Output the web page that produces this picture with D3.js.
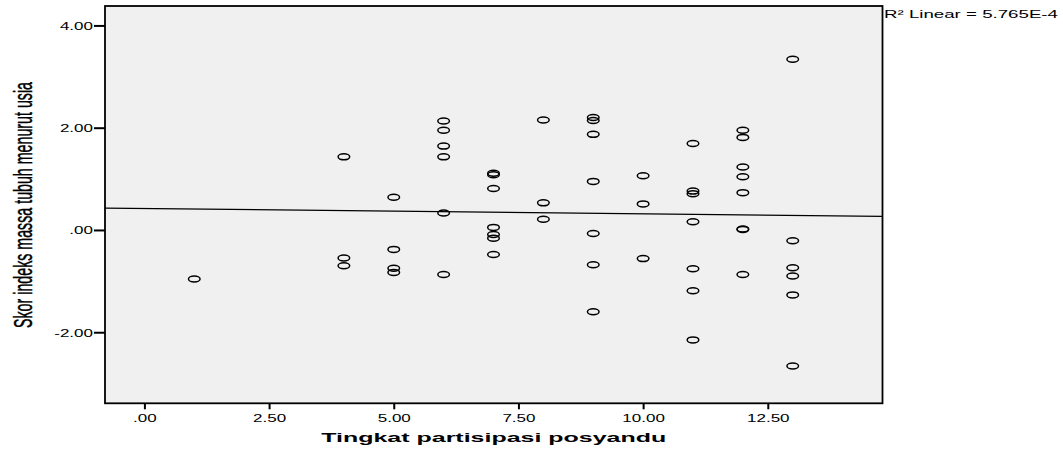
<!DOCTYPE html>
<html>
  <head>
    <meta charset="utf-8">
  </head>
  <body style="margin:0;background:#fff">
    <style>
      text { font-family: "Liberation Sans", Arial, sans-serif; fill: #000; }
    </style>
    <script src="https://d3js.org/d3.v7.min.js"></script>
    <script type="text/javascript">
      const width = 1063;
      const height = 450;

      // participation level (x) and the z-scores observed at that level (y)
      const levels = [1, 4, 5, 6, 7, 8, 9, 10, 11, 12, 13];
      const scoresByLevel = [
        [-0.96],
        [1.43, -0.55, -0.70],
        [0.64, -0.38, -0.75, -0.83],
        [2.13, 1.95, 1.64, 1.43, 0.33, -0.87],
        [1.11, 1.08, 0.81, 0.05, -0.09, -0.16, -0.48],
        [2.15, 0.53, 0.21],
        [2.20, 2.14, 1.87, 0.95, -0.07, -0.68, -1.60],
        [1.06, 0.51, -0.56],
        [1.69, 0.76, 0.71, 0.16, -0.76, -1.19, -2.15],
        [1.95, 1.81, 1.23, 1.04, 0.73, 0.02, 0.01, -0.87],
        [3.34, -0.21, -0.74, -0.90, -1.27, -2.66],
      ];
      const xTicks = [0, 2.5, 5, 7.5, 10, 12.5];
      const yTicks = [-2, 0, 2, 4];
      const fitIntercept = 0.42;
      const fitSlope = -0.0105;
      const r2Label = 'R\u00B2 Linear = 5.765E-4';
      const xTitle = 'Tingkat partisipasi posyandu';
      const yTitle = 'Skor indeks massa tubuh menurut usia';

      const points = [];
      levels.forEach((lv, i) => scoresByLevel[i].forEach((s) => points.push({ x: lv, y: s })));

      const plot = { left: 105, right: 882.5, top: 6, bottom: 403.3 };

      const xScale = d3.scaleLinear()
        .domain([-0.79, 14.8])
        .range([plot.left, plot.right]);

      const yScale = d3.scaleLinear()
        .domain([-3.39, 4.38])
        .range([plot.bottom, plot.top]);

      // SPSS style: ".00", "2.50", "-2.00" (plain hyphen)
      const fmt = (v) => (v < 0 ? '-' : '') + d3.format('.2f')(Math.abs(v)).replace(/^0\./, '.');

      const svg = d3.select('body')
        .append('svg')
        .attr('width', width)
        .attr('height', height);

      svg.append('rect')
        .attr('x', plot.left)
        .attr('y', plot.top)
        .attr('width', plot.right - plot.left)
        .attr('height', plot.bottom - plot.top)
        .attr('fill', '#f0f0f0');

      // axes
      const xAxis = svg.append('g')
        .attr('transform', `translate(0,${plot.bottom})`)
        .call(d3.axisBottom(xScale).tickValues(xTicks).tickFormat(fmt).tickSize(6).tickPadding(0));
      xAxis.select('.domain').remove();
      xAxis.selectAll('line').attr('stroke', '#000').attr('stroke-width', 2);
      xAxis.selectAll('text')
        .attr('y', null).attr('dy', null)
        .attr('transform', 'translate(0,19) scale(1.62,1)')
        .style('font-size', '10.5px');

      const yAxis = svg.append('g')
        .attr('transform', `translate(${plot.left},0)`)
        .call(d3.axisLeft(yScale).tickValues(yTicks).tickFormat(fmt).tickSize(11).tickPadding(0));
      yAxis.select('.domain').remove();
      yAxis.selectAll('line').attr('stroke', '#000').attr('stroke-width', 2);
      yAxis.selectAll('text')
        .attr('x', null).attr('dy', null)
        .attr('transform', 'translate(-12,4) scale(1.62,1)')
        .style('font-size', '10.5px');

      // fit line
      const xd = xScale.domain();
      svg.append('path')
        .datum(xd.map((x) => ({ x, y: fitIntercept + fitSlope * x })))
        .attr('d', d3.line().x((d) => xScale(d.x)).y((d) => yScale(d.y)))
        .attr('stroke', '#000')
        .attr('stroke-width', 1.3)
        .attr('fill', 'none');

      // points
      svg.append('g')
        .selectAll('ellipse')
        .data(points)
        .enter()
        .append('ellipse')
        .attr('cx', (d) => xScale(d.x))
        .attr('cy', (d) => yScale(d.y))
        .attr('rx', 5.8)
        .attr('ry', 3)
        .attr('fill', 'none')
        .attr('stroke', '#000')
        .attr('stroke-width', 1.5);

      // frame
      svg.append('rect')
        .attr('x', plot.left)
        .attr('y', plot.top)
        .attr('width', plot.right - plot.left)
        .attr('height', plot.bottom - plot.top)
        .attr('fill', 'none')
        .attr('stroke', '#000')
        .attr('stroke-width', 1.8);

      svg.append('text')
        .attr('x', 884)
        .attr('y', 18)
        .attr('textLength', 174)
        .attr('lengthAdjust', 'spacingAndGlyphs')
        .style('font-size', '10.5px')
        .text(r2Label);

      svg.append('text')
        .attr('x', (plot.left + plot.right) / 2)
        .attr('y', 442)
        .attr('text-anchor', 'middle')
        .attr('textLength', 345)
        .attr('lengthAdjust', 'spacingAndGlyphs')
        .style('font-size', '12.6px')
        .style('font-weight', 'bold')
        .text(xTitle);

      // condensed, tall y title: small font stretched perpendicular to the baseline
      svg.append('text')
        .attr('transform', 'translate(32,205) rotate(-90) scale(1,1.8)')
        .attr('text-anchor', 'middle')
        .attr('textLength', 246)
        .attr('lengthAdjust', 'spacingAndGlyphs')
        .style('font-size', '14.5px')
        .style('stroke', '#000')
        .style('stroke-width', 0.25)
        .text(yTitle);
    </script>
  </body>
</html>
